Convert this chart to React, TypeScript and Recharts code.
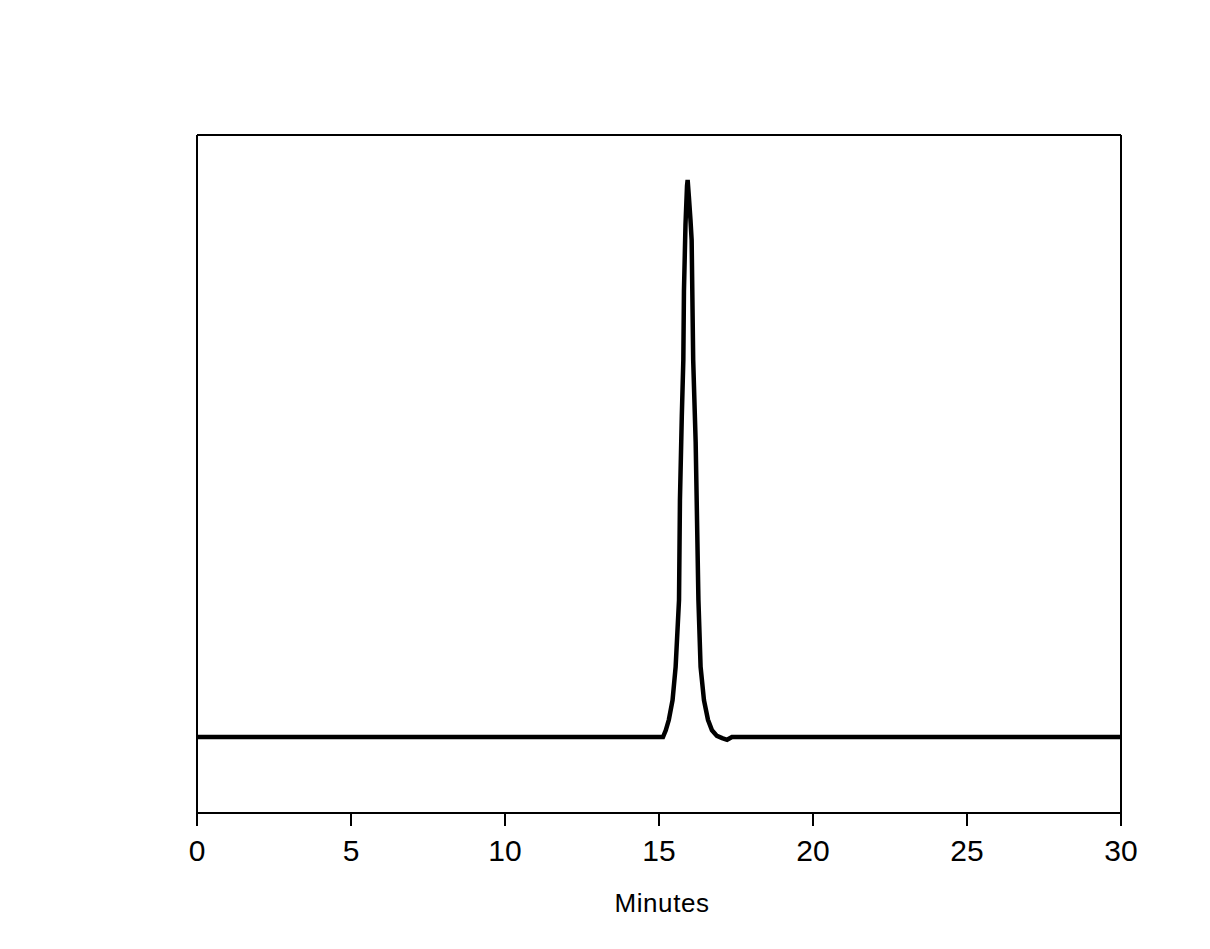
import { LineChart, Line, XAxis, YAxis, ReferenceLine } from "recharts";

// retention time (min) and detector response (relative, baseline = 0)
const minutes = [
  0, 5, 10, 15, 15.13, 15.22, 15.32, 15.44, 15.54, 15.65, 15.68, 15.74, 15.79, 15.81, 15.86,
  15.91, 15.93, 15.97, 16.02, 16.06, 16.11, 16.19, 16.23, 16.28, 16.35, 16.46, 16.59, 16.72,
  16.88, 17.05, 17.21, 17.37, 20, 25, 30,
];
const response = [
  0, 0, 0, 0, 0, 1.2, 3.1, 6.6, 12.6, 24.6, 42.5, 57.5, 67.7, 80, 92,
  99, 100, 97, 93, 89.2, 67.7, 53, 40.5, 24.6, 12.6, 6.6, 3.1, 1.2,
  0.2, -0.2, -0.5, 0, 0, 0, 0,
];
const xTicks = [0, 5, 10, 15, 20, 25, 30];

const data = minutes.map((t, i) => ({ t, v: response[i] }));

const font = "'Liberation Sans', Arial, sans-serif";
const yMin = -13.64;
const yMax = 108.08;

export default function App() {
  return (
    <div style={{ width: 1200, height: 930, background: "#fff" }}>
      <LineChart
        width={1200}
        height={930}
        data={data}
        margin={{ top: 127, right: 87, bottom: 21, left: 189 }}
      >
        <XAxis
          dataKey="t"
          type="number"
          domain={[0, 30]}
          ticks={xTicks}
          interval={0}
          height={104}
          tickSize={13}
          tickMargin={14}
          stroke="#000"
          strokeWidth={2}
          tick={{ fill: "#000", fontSize: 30, fontFamily: font }}
          tickLine={{ stroke: "#000", strokeWidth: 2 }}
          label={{
            value: "Minutes",
            position: "insideBottom",
            offset: 5,
            dx: 3,
            fill: "#000",
            fontSize: 26,
            fontFamily: font,
            letterSpacing: 0.6,
          }}
        />
        <YAxis hide domain={[yMin, yMax]} />
        {/* frame: left, right and top edges of the plot box */}
        <ReferenceLine x={0} stroke="#000" strokeWidth={2} />
        <ReferenceLine x={30} stroke="#000" strokeWidth={2} />
        <ReferenceLine y={yMax} stroke="#000" strokeWidth={2} />
        <Line
          dataKey="v"
          type="linear"
          stroke="#000"
          strokeWidth={4.5}
          dot={false}
          isAnimationActive={false}
        />
      </LineChart>
    </div>
  );
}
